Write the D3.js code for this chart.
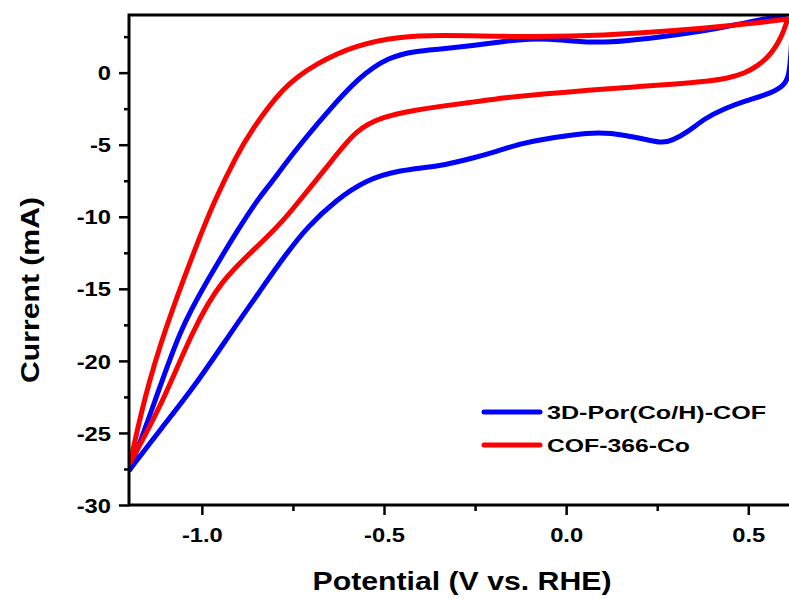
<!DOCTYPE html>
<html>
<head>
<meta charset="utf-8">
<script src="https://cdn.jsdelivr.net/npm/d3@7"></script>
<style>
  html, body { margin: 0; padding: 0; background: #fff; }
  svg { display: block; }
  text { font-family: "Liberation Sans", Arial, Helvetica, sans-serif; font-weight: bold; fill: #000; }
</style>
</head>
<body>
<svg id="chart" width="789" height="599"></svg>
<script>
// Cyclic voltammograms: potential (V vs. RHE) and current (mA).
// Each loop is stored as its lower (cathodic) and upper (anodic) branch.

// 3D-Por(Co/H)-COF
const porLowerE = [-1.198, -1.112, -1.020, -0.915, -0.838, -0.774, -0.710, -0.631, -0.549, -0.458,
                   -0.349, -0.257, -0.193, -0.121, -0.075, 0.016, 0.089, 0.162, 0.235, 0.263,
                   0.290, 0.336, 0.381, 0.436, 0.491, 0.564, 0.600, 0.612, 0.618, 0.623];
const porLowerI = [-27.55, -24.70, -21.78, -17.84, -15.07, -12.76, -10.68, -8.83, -7.44, -6.75,
                   -6.52, -5.94, -5.48, -4.90, -4.67, -4.32, -4.13, -4.32, -4.74, -4.85,
                   -4.74, -4.09, -3.16, -2.47, -1.96, -1.43, -0.85, -0.20, 1.50, 4.40];
const porUpperE = [-1.198, -1.130, -1.061, -0.984, -0.902, -0.841, -0.810, -0.750, -0.659, -0.568,
                   -0.486, -0.412, -0.349, -0.257, -0.166, -0.102, -0.047, 0.016, 0.089, 0.162,
                   0.245, 0.336, 0.427, 0.518, 0.564, 0.607, 0.623];
const porUpperI = [-27.55, -22.93, -17.84, -14.38, -10.91, -8.60, -7.67, -5.59, -2.82, -0.28,
                   1.11, 1.50, 1.62, 1.87, 2.20, 2.34, 2.34, 2.20, 2.08, 2.20,
                   2.43, 2.73, 3.12, 3.59, 3.81, 4.04, 4.40];

// COF-366-Co
const cofLowerE = [-1.197, -1.112, -1.025, -0.947, -0.847, -0.774, -0.723, -0.641, -0.577, -0.504,
                   -0.412, -0.349, -0.257, -0.166, -0.075, 0.016, 0.108, 0.199, 0.290, 0.381,
                   0.445, 0.491, 0.527, 0.555, 0.573, 0.591, 0.605, 0.607];
const cofLowerI = [-27.07, -23.16, -17.84, -14.38, -12.07, -10.21, -8.60, -6.05, -3.97, -3.05,
                   -2.59, -2.35, -2.05, -1.73, -1.50, -1.32, -1.13, -0.97, -0.80, -0.62,
                   -0.39, -0.04, 0.49, 1.11, 1.69, 2.50, 3.43, 3.72];
const cofUpperE = [-1.197, -1.157, -1.102, -1.020, -0.965, -0.902, -0.869, -0.778, -0.686, -0.577,
                   -0.458, -0.349, -0.166, 0.016, 0.199, 0.381, 0.518, 0.607];
const cofUpperI = [-27.07, -22.47, -17.84, -12.30, -8.83, -5.64, -4.20, -0.97, 0.65, 1.92,
                   2.50, 2.61, 2.50, 2.50, 2.73, 3.08, 3.43, 3.72];

const seriesNames = ["3D-Por(Co/H)-COF", "COF-366-Co"];
const seriesColors = ["#0000ff", "#ff0000"];

const potentialTicks = [-1.0, -0.5, 0.0, 0.5];
const potentialMinorTicks = [-0.75, -0.25, 0.25];
const currentTicks = [-30, -25, -20, -15, -10, -5, 0];
const currentMinorTicks = [-27.5, -22.5, -17.5, -12.5, -7.5, -2.5, 2.5];

const xTitle = "Potential (V vs. RHE)";
const yTitle = "Current  (mA)";

// ---- layout ----
const plot = { left: 129, top: 15, right: 792, bottom: 505 };
const svg = d3.select("#chart");

const x = d3.scaleLinear().domain([-1.2, 0.62]).range([plot.left, plot.right]);
const y = d3.scaleLinear().domain([-30, 4]).range([plot.bottom, plot.top]);

svg.append("defs").append("clipPath").attr("id", "plot-clip")
  .append("rect")
  .attr("x", plot.left).attr("y", plot.top)
  .attr("width", plot.right - plot.left).attr("height", plot.bottom - plot.top);

const pairs = (es, is) => es.map((e, i) => [e, is[i]]);

const branches = [
  { pts: pairs(porLowerE, porLowerI), color: seriesColors[0] },
  { pts: pairs(porUpperE, porUpperI), color: seriesColors[0] },
  { pts: pairs(cofLowerE, cofLowerI), color: seriesColors[1] },
  { pts: pairs(cofUpperE, cofUpperI), color: seriesColors[1] }
];

const line = d3.line()
  .x(d => x(d[0]))
  .y(d => y(d[1]))
  .curve(d3.curveBasis);

const curves = svg.append("g").attr("clip-path", "url(#plot-clip)");
curves.selectAll("path")
  .data(branches)
  .join("path")
  .attr("d", d => line(d.pts))
  .attr("fill", "none")
  .attr("stroke", d => d.color)
  .attr("stroke-width", 5)
  .attr("stroke-linejoin", "round")
  .attr("stroke-linecap", "round");

// ---- axes ----
function stretchText(sel, factor) {
  sel.each(function () {
    const w = this.getComputedTextLength();
    d3.select(this).attr("textLength", w * factor).attr("lengthAdjust", "spacingAndGlyphs");
  });
}

const yAxis = svg.append("g")
  .attr("transform", `translate(${plot.left},0)`)
  .call(d3.axisLeft(y).tickValues(currentTicks).tickSize(10).tickPadding(8)
        .tickSizeOuter(0).tickFormat(d => String(d)));
const yMinor = svg.append("g")
  .attr("transform", `translate(${plot.left},0)`)
  .call(d3.axisLeft(y).tickValues(currentMinorTicks).tickSize(5).tickFormat(""));

const xAxis = svg.append("g")
  .attr("transform", `translate(0,${plot.bottom})`)
  .call(d3.axisBottom(x).tickValues(potentialTicks).tickSize(10).tickPadding(12)
        .tickSizeOuter(0).tickFormat(d => d.toFixed(1)));
const xMinor = svg.append("g")
  .attr("transform", `translate(0,${plot.bottom})`)
  .call(d3.axisBottom(x).tickValues(potentialMinorTicks).tickSize(6).tickFormat(""));

[yAxis, yMinor, xAxis, xMinor].forEach(g => {
  g.select(".domain").remove();
  g.selectAll(".tick line").attr("stroke", "#000").attr("stroke-width", 2.5);
  g.selectAll(".tick text")
    .attr("font-size", 21)
    .attr("font-family", "'Liberation Sans', Arial, sans-serif")
    .attr("font-weight", "bold")
    .attr("fill", "#000");
});
yAxis.selectAll(".tick text").attr("dy", "0.34em");
xAxis.selectAll(".tick text").attr("dy", "0.71em");
stretchText(yAxis.selectAll(".tick text"), 1.13);
stretchText(xAxis.selectAll(".tick text"), 1.13);

// frame
svg.append("rect")
  .attr("x", plot.left).attr("y", plot.top)
  .attr("width", plot.right - plot.left).attr("height", plot.bottom - plot.top)
  .attr("fill", "none").attr("stroke", "#000").attr("stroke-width", 3);

// ---- titles ----
svg.append("text")
  .attr("x", 462).attr("y", 590)
  .attr("text-anchor", "middle")
  .attr("font-size", 25)
  .attr("textLength", 299).attr("lengthAdjust", "spacingAndGlyphs")
  .text(xTitle);

svg.append("text")
  .attr("transform", "translate(39,290) rotate(-90)")
  .attr("text-anchor", "middle")
  .attr("font-size", 25)
  .attr("textLength", 186).attr("lengthAdjust", "spacingAndGlyphs")
  .text(yTitle);

// ---- legend ----
const legendRows = [412, 445];
const legendWidths = [219, 143];
const legend = svg.append("g");
seriesNames.forEach((name, k) => {
  legend.append("line")
    .attr("x1", 484).attr("x2", 540)
    .attr("y1", legendRows[k]).attr("y2", legendRows[k])
    .attr("stroke", seriesColors[k]).attr("stroke-width", 5)
    .attr("stroke-linecap", "round");
  legend.append("text")
    .attr("x", 547).attr("y", legendRows[k] + 7)
    .attr("font-size", 19)
    .attr("textLength", legendWidths[k]).attr("lengthAdjust", "spacingAndGlyphs")
    .text(name);
});
</script>
</body>
</html>
